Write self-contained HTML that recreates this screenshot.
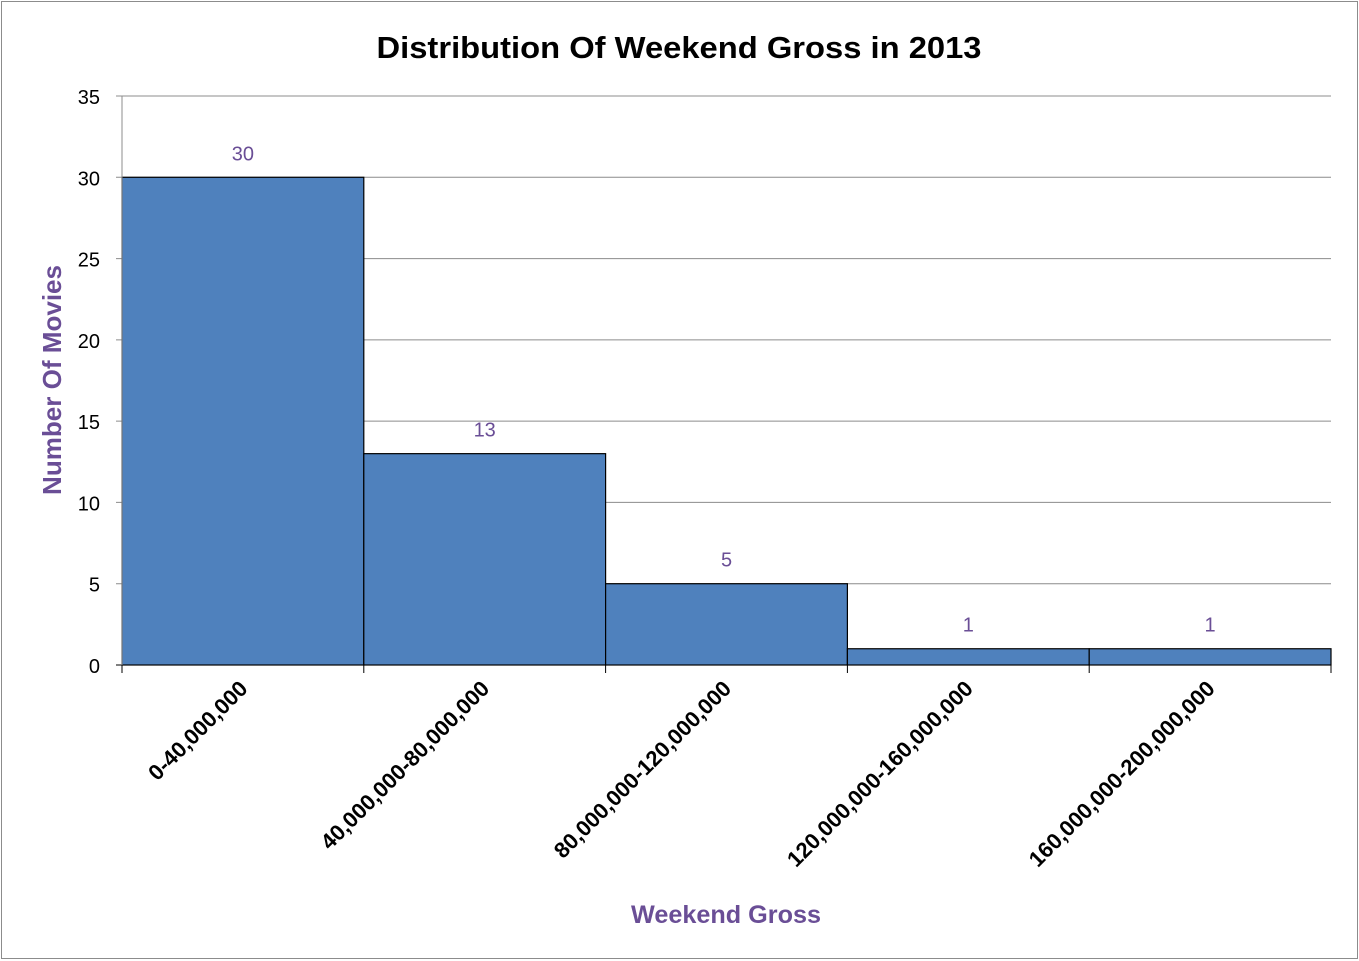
<!DOCTYPE html>
<html><head><meta charset="utf-8"><style>
body{margin:0;background:#fff;}
svg{display:block;font-family:"Liberation Sans",sans-serif;}
</style></head><body>
<svg id="chart" width="1359" height="961" viewBox="0 0 1359 961">
<rect x="1.5" y="1.5" width="1356" height="957" fill="#fff" stroke="#8c8c8c" stroke-width="1"/>
<text x="679" y="58" text-anchor="middle" font-size="31" font-weight="bold" fill="#000" textLength="605" lengthAdjust="spacingAndGlyphs">Distribution Of Weekend Gross in 2013</text>
<text transform="translate(61,380) rotate(-90)" text-anchor="middle" font-size="26" font-weight="bold" fill="#6a4e96" textLength="230" lengthAdjust="spacingAndGlyphs">Number Of Movies</text>
<text x="726" y="923" text-anchor="middle" font-size="25" font-weight="bold" fill="#6a4e96" textLength="190" lengthAdjust="spacingAndGlyphs">Weekend Gross</text>
<g id="grid"></g><g id="bars"></g><g id="axes"></g>
</svg>
<script>
const categories=["0-40,000,000","40,000,000-80,000,000","80,000,000-120,000,000","120,000,000-160,000,000","160,000,000-200,000,000"];
const counts=[30,13,5,1,1];
const yTicks=[0,5,10,15,20,25,30,35];
const NS="http://www.w3.org/2000/svg";
const X0=122,X1=1331,Y0=665,Y1=96,YMAX=35;
const bw=(X1-X0)/categories.length;
const y=v=>Y0-(v/YMAX)*(Y0-Y1);
const x=i=>X0+i*bw;
function mk(t,a,p){const e=document.createElementNS(NS,t);for(const k in a)e.setAttribute(k,a[k]);p.appendChild(e);return e;}
const grid=document.getElementById('grid'),bars=document.getElementById('bars'),axes=document.getElementById('axes');
yTicks.forEach(t=>{
 const l=mk('line',{x1:X0-6,x2:X1,y1:y(t),y2:y(t),stroke:t===0?'#000':'#8c8c8c','stroke-width':1},grid);
 
 
 const tx=mk('text',{x:100,y:y(t)+8,'text-anchor':'end','font-size':20,fill:'#000'},axes);
 tx.textContent=t;
 
 
});
mk('line',{x1:X0,x2:X0,y1:Y1,y2:Y0,stroke:'#8c8c8c'},axes);
counts.forEach((v,i)=>{
 const r=mk('rect',{x:x(i),y:y(v),width:bw,height:Y0-y(v),fill:'#4f81bd',stroke:'#000','stroke-width':1.2},bars);
 
 
 const lb=mk('text',{x:x(i)+bw/2,y:y(v)-17,'text-anchor':'middle','font-size':20,fill:'#6a4e96'},bars);
 lb.textContent=v;
 
 
 const cx=x(i)+bw/2+6;
 const c=mk('text',{transform:`translate(${cx},690) rotate(-45)`,'text-anchor':'end','font-size':22,'font-weight':'bold',fill:'#000'},axes);
 c.textContent=categories[i];
 
 
});
for(let i=0;i<=categories.length;i++){
 const t=mk('line',{x1:x(i),x2:x(i),y1:Y0,y2:Y0+8,stroke:'#000'},axes);
 
 
}
</script>
</body></html>
